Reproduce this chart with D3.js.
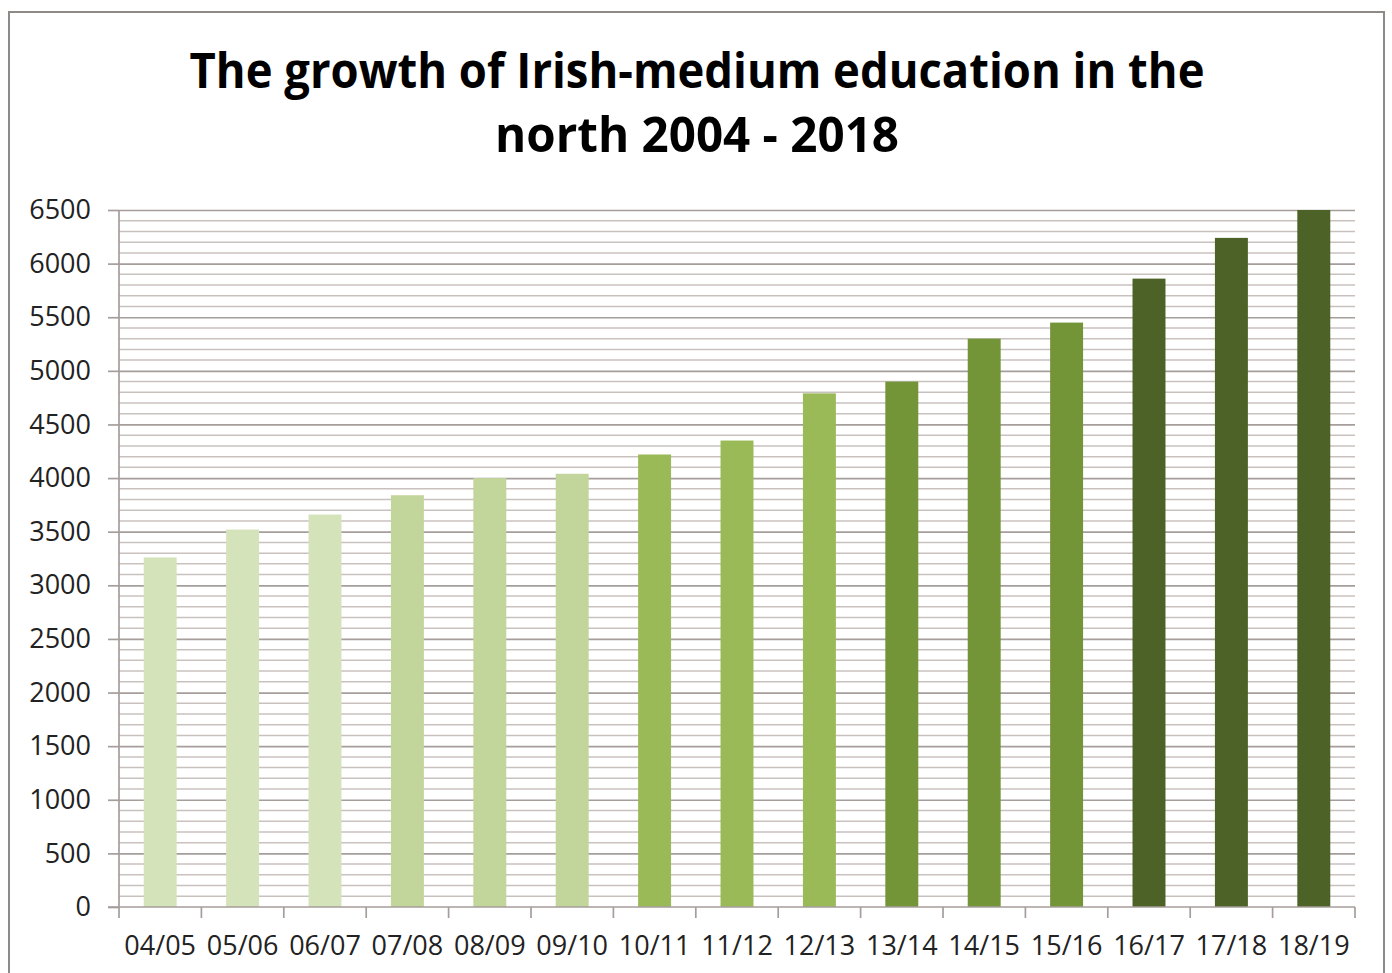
<!DOCTYPE html>
<html>
<head>
<meta charset="utf-8">
<script src="https://cdn.jsdelivr.net/npm/d3@7"></script>
<style>
  body { margin: 0; background: #fff; }
  svg text { font-family: "Open Sans", sans-serif; }
</style>
</head>
<body>
<div id="chart-area"></div>
<script>

var titleLines = ["The growth of Irish-medium education in the", "north 2004 - 2018"];
var years = ["04/05", "05/06", "06/07", "07/08", "08/09", "09/10", "10/11", "11/12",
             "12/13", "13/14", "14/15", "15/16", "16/17", "17/18", "18/19"];
var pupils = [3260, 3520, 3660, 3840, 4000, 4040, 4220, 4350,
              4790, 4900, 5300, 5450, 5860, 6240, 6500];
var yTicks = [0, 500, 1000, 1500, 2000, 2500, 3000, 3500, 4000, 4500, 5000, 5500, 6000, 6500];

// one shade per group of three years
var shades = ["#d5e3ba", "#c2d59a", "#9aba57", "#739538", "#4c6226"];

var W = 1392, H = 973;
var margin = { top: 210, right: 37, bottom: 66, left: 119 },
    width = W - margin.left - margin.right,
    height = H - margin.top - margin.bottom;

var root = d3.select("#chart-area")
    .append("svg")
    .attr("width", W)
    .attr("height", H);

// outer frame
root.append("rect")
    .attr("x", 9)
    .attr("y", 12)
    .attr("width", 1375)
    .attr("height", H)
    .attr("fill", "#fff")
    .attr("stroke", "#8e8a88")
    .attr("stroke-width", 2);

// title
var titleWidths = [1015, 404];
titleLines.forEach(function(t, i) {
    root.append("text")
        .attr("x", 697)
        .attr("y", 88 + i * 64)
        .attr("text-anchor", "middle")
        .attr("textLength", titleWidths[i])
        .attr("lengthAdjust", "spacingAndGlyphs")
        .style("font-size", "49px")
        .style("font-weight", "bold")
        .attr("fill", "#000")
        .text(t);
});

var svg = root.append("g")
    .attr("transform", "translate(" + margin.left + "," + margin.top + ")");

var xScale = d3.scaleBand()
    .domain(years)
    .range([0, width])
    .paddingInner(0.6)
    .paddingOuter(0.3);

var yScale = d3.scaleLinear()
    .domain([0, 6500])
    .range([height, 0]);

// minor gridlines every 100
svg.append("g")
    .selectAll("line")
    .data(d3.range(100, 6500, 100).filter(function(v) { return v % 500 !== 0; }))
    .enter().append("line")
    .attr("x1", 0)
    .attr("x2", width)
    .attr("y1", function(d) { return yScale(d); })
    .attr("y2", function(d) { return yScale(d); })
    .attr("stroke", "#c8c1be")
    .attr("stroke-width", 1.5);

// major gridlines
svg.append("g")
    .attr("class", "grid")
    .call(d3.axisLeft(yScale)
        .tickValues(yTicks.slice(1))
        .tickSize(-width)
        .tickFormat("")
    )
    .call(function(g) { g.select(".domain").remove(); })
    .selectAll("line")
    .attr("stroke", "#a59e9b")
    .attr("stroke-width", 1.7);

// bars
svg.selectAll("rect.bar")
    .data(pupils)
    .enter().append("rect")
    .attr("class", "bar")
    .attr("x", function(d, i) { return xScale(years[i]); })
    .attr("y", function(d) { return yScale(d); })
    .attr("width", xScale.bandwidth())
    .attr("height", function(d) { return height - yScale(d); })
    .attr("fill", function(d, i) { return shades[Math.floor(i / 3)]; });

// y axis
var yAxis = svg.append("g")
    .call(d3.axisLeft(yScale)
        .tickValues(yTicks)
        .tickFormat(d3.format("d"))
        .tickSize(11)
        .tickPadding(17));
yAxis.select(".domain").attr("stroke", "#a59e9b").attr("stroke-width", 1.7)
    .attr("d", "M0,0V" + height);
yAxis.selectAll("line").attr("stroke", "#a59e9b").attr("stroke-width", 1.7);
yAxis.selectAll("text")
    .style("font-size", "27px")
    .attr("fill", "#222");

// x axis, ticks sit between categories
var xAxisG = svg.append("g")
    .attr("transform", "translate(0," + height + ")");
xAxisG.append("line")
    .attr("x1", -11).attr("x2", width)
    .attr("stroke", "#a59e9b").attr("stroke-width", 1.7);
xAxisG.selectAll("line.tick")
    .data(d3.range(years.length + 1))
    .enter().append("line")
    .attr("class", "tick")
    .attr("x1", function(i) { return i * width / years.length; })
    .attr("x2", function(i) { return i * width / years.length; })
    .attr("y1", 0)
    .attr("y2", 11)
    .attr("stroke", "#a59e9b")
    .attr("stroke-width", 1.7);
xAxisG.selectAll("text")
    .data(years)
    .enter().append("text")
    .attr("x", function(d) { return xScale(d) + xScale.bandwidth() / 2; })
    .attr("y", 48)
    .attr("text-anchor", "middle")
    .style("font-size", "27px")
    .attr("fill", "#222")
    .text(function(d) { return d; });

</script>
</body>
</html>
